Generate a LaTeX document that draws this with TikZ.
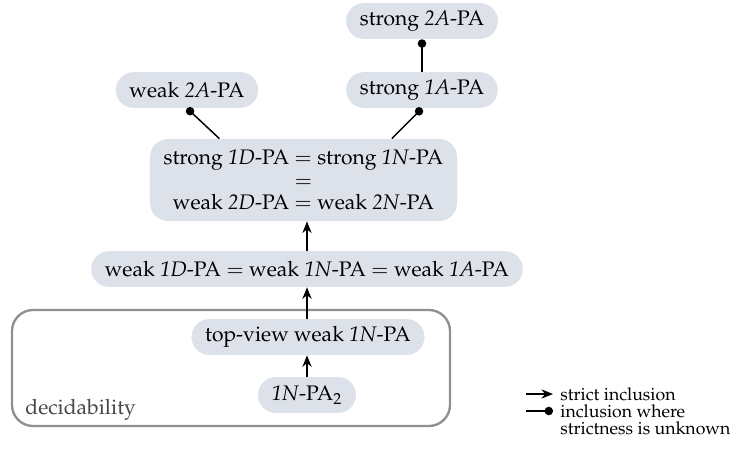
\documentclass[tikz,border=0pt]{standalone}
\usepackage[T1]{fontenc}
\usepackage{mathpazo}
\usetikzlibrary{arrows.meta}
\definecolor{boxfill}{RGB}{221,226,234}
\definecolor{frame}{RGB}{140,143,148}
\definecolor{labelgray}{RGB}{70,70,70}
\begin{document}
\begin{tikzpicture}[x=0.475pt,y=-0.475pt,
  cls/.style={fill=boxfill,rounded corners=8.5pt,inner xsep=6.5pt,inner ysep=0pt,
    minimum height=17pt,font=\fontsize{10}{12.5}\selectfont,align=center},
  strict/.style={-{Stealth[length=5.5pt,width=4.4pt]},line width=0.7pt},
  unknown/.style={-{Circle[length=4pt]},line width=0.7pt}]
\useasboundingbox (0,0) rectangle (739,448);

% decidable region
\draw[frame,line width=1.1pt,rounded corners=10pt] (12,310) rectangle (450,426);
\node[anchor=base west,text=labelgray,font=\fontsize{10}{12}\selectfont,inner sep=0pt] (dec) at (25,414) {decidability};

% classes
\node[cls] (s2A) at (422,21) {strong \textit{2A}-PA};
\node[cls] (s1A) at (422,90) {strong \textit{1A}-PA};
\node[cls] (w2A) at (187,90) {weak \textit{2A}-PA};
\node[cls,minimum height=39pt,inner ysep=2pt] (big) at (303.5,180)
  {strong \textit{1D}-PA $=$ strong \textit{1N}-PA\\[-1.8pt] $=$\\[-1.8pt] weak \textit{2D}-PA $=$ weak \textit{2N}-PA};
\node[cls] (w1D) at (307,269) {weak \textit{1D}-PA $=$ weak \textit{1N}-PA $=$ weak \textit{1A}-PA};
\node[cls] (tv) at (308,337) {top-view weak \textit{1N}-PA};
\node[cls] (pa2) at (307,395) {\textit{1N}-PA$_2$};

% inclusions
\draw[strict] (w1D.north -| 307,0) -- (big.south -| 307,0);
\draw[strict] (tv.north -| 307,0) -- (w1D.south -| 307,0);
\draw[strict] (pa2.north -| 307,0) -- (tv.south -| 307,0);
\draw[unknown] (s1A) -- (s2A);
\draw[unknown] ([xshift=-40pt]big.north) -- (w2A.south);
\draw[unknown] ([xshift=42pt]big.north) -- (s1A.south);

% legend
\coordinate (la1) at (526,394);
\coordinate (la2) at (553,394);
\coordinate (lb1) at (526,411);
\coordinate (lb2) at (553,411);
\draw[strict] (la1) -- (la2);
\draw[unknown] (lb1) -- (lb2);
\node[anchor=west,inner sep=0pt,font=\fontsize{8.4}{8.1}\selectfont] (ls) at (560,394) {strict inclusion};
\node[anchor=north west,inner sep=0pt,align=left,font=\fontsize{8.4}{8.1}\selectfont] (lu) at (560,404)
  {inclusion where\\strictness is unknown};
\end{tikzpicture}
\end{document}
